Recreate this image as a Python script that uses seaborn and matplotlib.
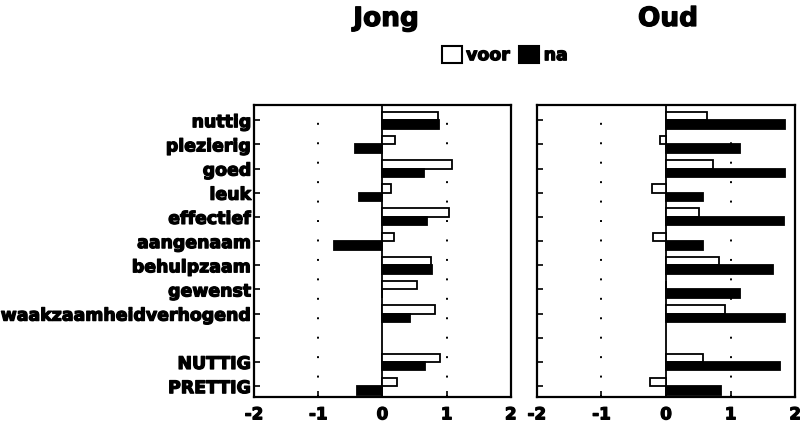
import matplotlib
matplotlib.use("Agg")
import matplotlib.pyplot as plt
import matplotlib.patheffects as pe
import seaborn as sns
import pandas as pd
from matplotlib.patches import Patch

categories = ["nuttig", "plezierig", "goed", "leuk", "effectief", "aangenaam",
              "behulpzaam", "gewenst", "waakzaamheidverhogend", " ", "NUTTIG", "PRETTIG"]
data_categories = ["nuttig", "plezierig", "goed", "leuk", "effectief", "aangenaam",
                   "behulpzaam", "gewenst", "waakzaamheidverhogend", "NUTTIG", "PRETTIG"]

jong_voor = [0.87, 0.19, 1.08, 0.14, 1.03, 0.18, 0.76, 0.54, 0.82, 0.90, 0.23]
jong_na   = [0.88, -0.42, 0.65, -0.37, 0.70, -0.75, 0.77, 0.00, 0.43, 0.66, -0.39]
oud_voor  = [0.64, -0.09, 0.72, -0.21, 0.51, -0.20, 0.82, 0.00, 0.92, 0.57, -0.24]
oud_na    = [1.84, 1.15, 1.84, 0.58, 1.83, 0.58, 1.65, 1.14, 1.84, 1.77, 0.85]

panels = ["Jong", "Oud"]
groups = ["voor", "na"]
xticks = [-2, -1, 0, 1, 2]

def long_df(voor, na):
    rows = []
    for c, v in zip(data_categories, voor):
        rows.append({"item": c, "tijd": "voor", "waarde": v})
    for c, v in zip(data_categories, na):
        rows.append({"item": c, "tijd": "na", "waarde": v})
    return pd.DataFrame(rows)

sns.set_style("white")
plt.rcParams["font.family"] = ["DejaVu Sans"]
plt.rcParams["font.weight"] = "bold"
for k in ["text.color", "axes.labelcolor", "xtick.color", "ytick.color", "axes.edgecolor"]:
    plt.rcParams[k] = "black"

heavy = [pe.withStroke(linewidth=0.9, foreground="black")]

fig = plt.figure(figsize=(8, 4.26), dpi=100)
ax1 = fig.add_axes([0.3175, 0.068, 0.321, 0.685])
ax2 = fig.add_axes([0.671, 0.068, 0.323, 0.685])

palette = {"voor": "white", "na": "black"}
for ax, name, (v, n) in zip([ax1, ax2], panels, [(jong_voor, jong_na), (oud_voor, oud_na)]):
    df = long_df(v, n)
    sns.barplot(data=df, y="item", x="waarde", hue="tijd", order=categories,
                hue_order=groups, palette=palette, orient="h", width=0.7,
                edgecolor="black", linewidth=1.3, ax=ax, legend=False, errorbar=None)
    ax.set_xlim(-2, 2)
    ax.set_ylim(11.45, -0.62)
    ax.axvline(0, color="black", lw=1.3, zorder=0)
    for xv in (-1, 1):
        ax.axvline(xv, color="black", lw=1.4, ls=(0, (1, 9)), zorder=0)
    ax.set_xticks(xticks)
    ax.set_xticklabels([str(t) for t in xticks], fontsize=12, fontweight="bold")
    ax.set_xlabel("")
    ax.set_ylabel("")
    ax.tick_params(axis="y", direction="in", length=4, width=1.2, left=True, pad=2)
    ax.tick_params(axis="x", direction="in", length=4, width=1.2, bottom=True, pad=6)
    for s in ax.spines.values():
        s.set_color("black")
        s.set_linewidth(1.6)
    for t in ax.get_xticklabels():
        t.set_path_effects(heavy)

ax1.set_yticks(range(len(categories)))
ax1.set_yticklabels(categories, fontsize=12.5, fontweight="bold")
for t in ax1.get_yticklabels():
    t.set_path_effects(heavy)
ax2.set_yticks(range(len(categories)))
ax2.set_yticklabels([])

fig.text(386 / 800, 1 - 19 / 426, panels[0], ha="center", va="center",
         fontsize=19, fontweight="bold", path_effects=heavy)
fig.text(668 / 800, 1 - 19 / 426, panels[1], ha="center", va="center",
         fontsize=19, fontweight="bold", path_effects=heavy)

handles = [Patch(facecolor="white", edgecolor="black", lw=1.5, label="voor"),
           Patch(facecolor="black", edgecolor="black", lw=1.5, label="na")]
leg = fig.legend(handles=handles, loc="center", bbox_to_anchor=(0.631, 0.871), ncol=2,
                 frameon=False, handlelength=1.15, handleheight=1.15, handletextpad=0.25,
                 columnspacing=0.55, prop={"weight": "bold", "size": 12.5},
                 borderpad=0, borderaxespad=0)
for t in leg.get_texts():
    t.set_path_effects(heavy)

fig.savefig("out.png", dpi=100)
